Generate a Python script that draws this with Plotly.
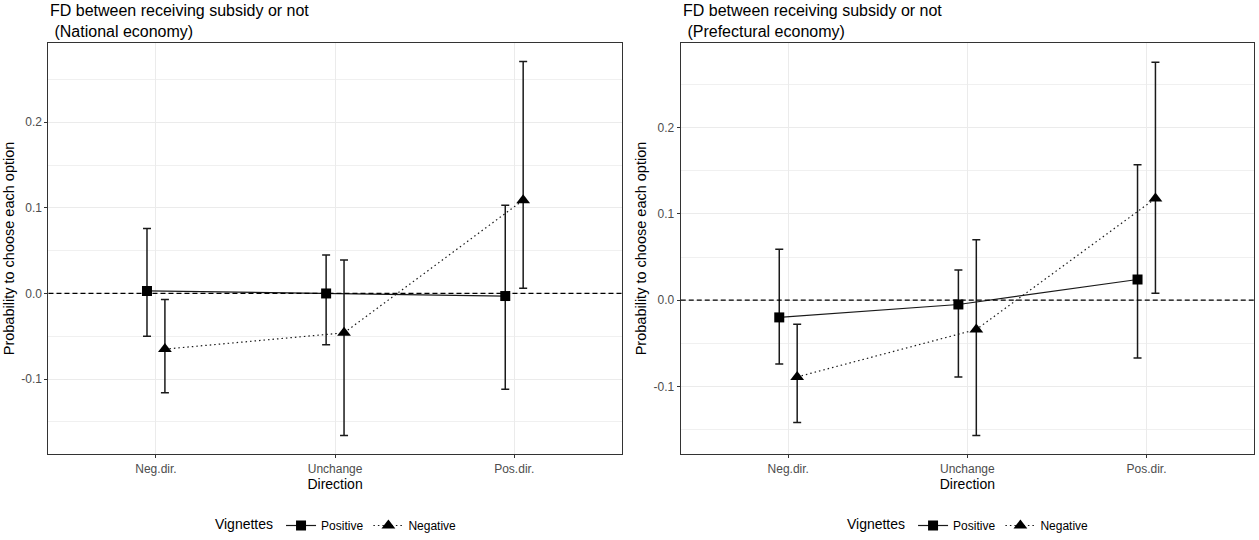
import plotly.graph_objects as go
from plotly.subplots import make_subplots

# categories on the x axis
directions = ["Neg.dir.", "Unchange", "Pos.dir."]
vignettes = ["Positive", "Negative"]

# y tick labels (plain hyphen for negatives, as in the original)
y_ticks = [-0.1, 0.0, 0.1, 0.2]
y_tick_labels = ["-0.1", "0.0", "0.1", "0.2"]

# National economy panel
nat_pos_est = [0.003, 0.000, -0.003]
nat_pos_lo = [-0.050, -0.060, -0.112]
nat_pos_hi = [0.076, 0.045, 0.103]
nat_neg_est = [-0.065, -0.046, 0.109]
nat_neg_lo = [-0.116, -0.166, 0.006]
nat_neg_hi = [-0.007, 0.039, 0.271]

# Prefectural economy panel
pre_pos_est = [-0.020, -0.005, 0.024]
pre_pos_lo = [-0.074, -0.089, -0.067]
pre_pos_hi = [0.059, 0.035, 0.157]
pre_neg_est = [-0.089, -0.034, 0.118]
pre_neg_lo = [-0.142, -0.157, 0.008]
pre_neg_hi = [-0.028, 0.070, 0.276]

panel_titles = ["FD between receiving subsidy or not<br> (National economy)",
                "FD between receiving subsidy or not<br> (Prefectural economy)"]

FONT = "Liberation Sans, Arial, sans-serif"
INK = "#1a1a1a"
DODGE = 0.05

fig = make_subplots(rows=1, cols=2, horizontal_spacing=0.04)

panels = [
    (nat_pos_est, nat_pos_lo, nat_pos_hi, nat_neg_est, nat_neg_lo, nat_neg_hi, "legend"),
    (pre_pos_est, pre_pos_lo, pre_pos_hi, pre_neg_est, pre_neg_lo, pre_neg_hi, "legend2"),
]

for col, (pe, pl, ph, ne, nl, nh, leg) in enumerate(panels, start=1):
    series = [
        (vignettes[0], pe, pl, ph, -DODGE, "square", 10, "solid"),
        (vignettes[1], ne, nl, nh, DODGE, "triangle-up", 12, "1.5px,3px"),
    ]
    for name, est, lo, hi, off, sym, size, dash in series:
        xs = [i + 1 + off for i in range(len(directions))]
        fig.add_trace(go.Scatter(
            x=xs, y=est, name=name, mode="lines+markers",
            line=dict(color=INK, width=1.2, dash=dash),
            marker=dict(symbol=sym, size=size, color="black"),
            error_y=dict(type="data", symmetric=False,
                         array=[h - e for h, e in zip(hi, est)],
                         arrayminus=[e - l for e, l in zip(est, lo)],
                         color=INK, thickness=1.5, width=4),
            legend=leg, showlegend=True,
        ), row=1, col=col)
    fig.add_hline(y=0, line=dict(color="black", width=1.3, dash="5px,3px"), row=1, col=col)

axis_common = dict(showline=True, mirror=True, linecolor="#333333", linewidth=1.2,
                   ticks="outside", ticklen=3, tickcolor="#333333", zeroline=False,
                   gridcolor="#EBEBEB", gridwidth=1,
                   tickfont=dict(family=FONT, size=12, color="#4D4D4D"),
                   title_font=dict(family=FONT, size=14, color="black"))

fig.update_xaxes(**axis_common, range=[0.4, 3.6], tickvals=[1, 2, 3], ticktext=directions,
                 title_text="Direction", title_standoff=2)
fig.update_yaxes(**axis_common, tickvals=y_ticks, ticktext=y_tick_labels,
                 minor=dict(dtick=0.05, showgrid=True, gridcolor="#F0F0F0", gridwidth=1, ticks=""),
                 title_text="Probability to choose each option", title_standoff=3)
fig.update_yaxes(title_font_size=14.5)

fig.update_layout(
    width=1259, height=540,
    margin=dict(l=0, r=0, t=0, b=0),
    plot_bgcolor="white", paper_bgcolor="white",
    font=dict(family=FONT, color="black"),
    xaxis=dict(domain=[0.0385, 0.4938]),
    xaxis2=dict(domain=[0.5407, 0.9960]),
    yaxis=dict(domain=[0.1513, 0.9198], range=[-0.1876, 0.2927]),
    yaxis2=dict(domain=[0.1513, 0.9198], range=[-0.1785, 0.2984]),
    legend=dict(orientation="h", x=0.268, xanchor="center", y=0.017, yanchor="middle",
                title=dict(text="Vignettes", side="left", font=dict(size=14)),
                font=dict(size=12), itemwidth=30, bgcolor="rgba(0,0,0,0)"),
    legend2=dict(orientation="h", x=0.770, xanchor="center", y=0.017, yanchor="middle",
                 title=dict(text="Vignettes", side="left", font=dict(size=14)),
                 font=dict(size=12), itemwidth=30, bgcolor="rgba(0,0,0,0)"),
)

for title, xpos in zip(panel_titles, [0.0385, 0.5407]):
    fig.add_annotation(text=title, xref="paper", yref="paper", x=xpos, y=1.0,
                       xanchor="left", yanchor="top", align="left", showarrow=False,
                       font=dict(family=FONT, size=16, color="black"))

# drop the default page margin so the figure sits at the window's corner
fig.write_html("out.html", config={"displayModeBar": False},
               post_script="document.body.style.margin='0';")
